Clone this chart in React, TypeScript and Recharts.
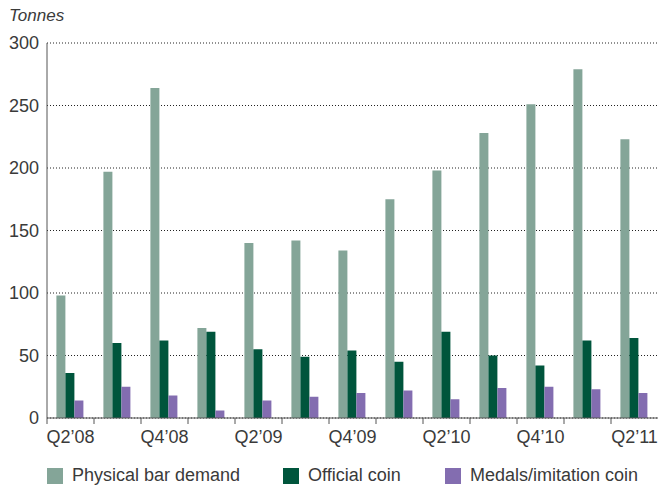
import React from 'react';
import { BarChart, Bar, XAxis, YAxis, CartesianGrid } from 'recharts';

const quarters = [
  "Q2'08", "Q3'08", "Q4'08", "Q1'09", "Q2'09", "Q3'09", "Q4'09",
  "Q1'10", "Q2'10", "Q3'10", "Q4'10", "Q1'11", "Q2'11",
];
const physicalBar = [98, 197, 264, 72, 140, 142, 134, 175, 198, 228, 251, 279, 223];
const officialCoin = [36, 60, 62, 69, 55, 49, 54, 45, 69, 50, 42, 62, 64];
const medals = [14, 25, 18, 6, 14, 17, 20, 22, 15, 24, 25, 23, 20];
const yTicks = [0, 50, 100, 150, 200, 250, 300];

const series = [
  { key: 'physical', name: 'Physical bar demand', color: '#84a598' },
  { key: 'official', name: 'Official coin', color: '#00553c' },
  { key: 'medals', name: 'Medals/imitation coin', color: '#836db0' },
];
// legend item left edges
const legendX = [47, 283, 445];

const data = quarters.map((q, i) => ({
  q,
  physical: physicalBar[i],
  official: officialCoin[i],
  medals: medals[i],
}));

const FONT = '"Liberation Sans", Arial, sans-serif';
const TEXT = '#3a3a3a';

// ticks sit on the category boundaries, labels on every other quarter
const QuarterTick = (props: any) => {
  const { x, y, payload } = props;
  const half = payload && payload.offset ? payload.offset : 23.5;
  const idx = payload.index;
  return (
    <g>
      <line x1={x - half} y1={y - 8} x2={x - half} y2={y - 2} stroke="#555" strokeWidth={1} />
      {idx % 2 === 0 && (
        <text x={x} y={y} dy={17} textAnchor="middle" fill={TEXT} fontSize={18} fontFamily={FONT}>
          {payload.value.replace("'", '\u2019')}
        </text>
      )}
    </g>
  );
};

export default function App() {
  return (
    <div style={{ position: 'absolute', left: 0, top: 0, width: 658, height: 487, background: '#fff', fontFamily: FONT, overflow: 'hidden' }}>
      <div style={{ position: 'absolute', left: 9, top: 6, fontSize: 17, fontStyle: 'italic', color: TEXT }}>
        Tonnes
      </div>
      <BarChart
        width={658}
        height={487}
        data={data}
        margin={{ top: 43, right: 0, left: 0, bottom: 39 }}
        barCategoryGap="20%"
        barGap={0}
      >
        <CartesianGrid vertical={false} stroke="#222" strokeDasharray="1 2" />
        <XAxis
          dataKey="q"
          interval={0}
          height={30}
          tickLine={false}
          axisLine={{ stroke: '#555' }}
          tick={<QuarterTick />}
        />
        <YAxis
          width={47}
          domain={[0, 300]}
          ticks={yTicks}
          tickLine={false}
          axisLine={{ stroke: '#555' }}
          tick={{ fill: TEXT, fontSize: 18, fontFamily: FONT }}
        />
        {series.map((s) => (
          <Bar key={s.key} dataKey={s.key} name={s.name} fill={s.color} isAnimationActive={false} />
        ))}
      </BarChart>
      {series.map((s, i) => (
        <div
          key={s.key}
          style={{
            position: 'absolute', left: legendX[i], top: 465, display: 'flex', alignItems: 'center',
            whiteSpace: 'nowrap', fontSize: 18, lineHeight: '21px', color: TEXT,
          }}
        >
          <div style={{ width: 16, height: 16, background: s.color, marginRight: 9 }} />
          <span>{s.name}</span>
        </div>
      ))}
    </div>
  );
}
